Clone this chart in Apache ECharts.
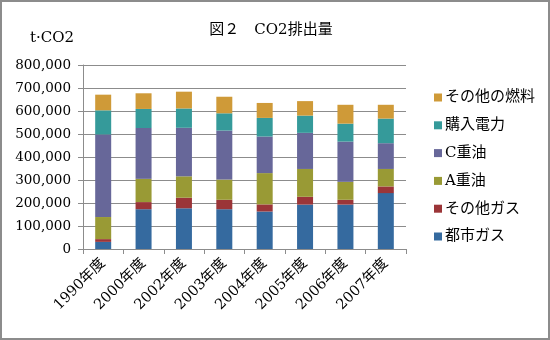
<!DOCTYPE html>
<html><head><meta charset="utf-8">
<script src="https://cdn.jsdelivr.net/npm/echarts@6/dist/echarts.min.js"></script>
<style>html,body{margin:0;padding:0;background:#fff}#c{width:550px;height:340px;box-sizing:border-box;border:2px solid #8c8c8c}</style>
</head><body><div id="c"></div>
<script>
const categories = ['1990年度','2000年度','2002年度','2003年度','2004年度','2005年度','2006年度','2007年度'];
const cityGas   = [31000,173000,177000,173000,163000,193000,193000,243000];
const otherGas  = [12000,31000,46000,41000,31000,34000,21000,29000];
const heavyOilA = [96000,101000,93000,88000,136000,121000,78000,76000];
const heavyOilC = [359000,221000,211000,213000,159000,157000,175000,112000];
const purchasedPower = [105000,83000,84000,75000,81000,75000,78000,107000];
const otherFuel = [68000,68000,73000,72000,65000,63000,82000,60000];
const yTicks = [0,100000,200000,300000,400000,500000,600000,700000,800000];

const FONT = '"DejaVu Serif","Noto Sans CJK JP",serif';
const seriesDefs = [
  ['都市ガス', cityGas, '#356a9f'],
  ['その他ガス', otherGas, '#9b3538'],
  ['A重油', heavyOilA, '#999a35'],
  ['C重油', heavyOilC, '#676799'],
  ['購入電力', purchasedPower, '#359a9a'],
  ['その他の燃料', otherFuel, '#cf9a38']
];
const chart = echarts.init(document.getElementById('c'), null, {renderer:'canvas'});
chart.setOption({
  animation:false,
  textStyle:{fontFamily:FONT},
  title:{text:'図２　CO2排出量', left:269, top:21, textAlign:'center', padding:0,
    textStyle:{fontFamily:FONT, fontSize:15, fontWeight:'normal', color:'#000'}},
  legend:{orient:'vertical', left:432, top:88, padding:0, itemGap:12.8, itemWidth:8, itemHeight:8,
    icon:'rect', textStyle:{fontFamily:FONT, fontSize:15, color:'#000', padding:[0,0,0,-2]},
    data:seriesDefs.map(s=>s[0]).reverse()},
  grid:{left:81, right:142, top:63, bottom:89},
  xAxis:{type:'category', data:categories,
    axisLine:{lineStyle:{color:'#8c8c8c'}},
    axisTick:{show:true, length:5, lineStyle:{color:'#8c8c8c'}},
    axisLabel:{rotate:45, margin:12, fontFamily:FONT, fontSize:14.5, color:'#000'}},
  yAxis:{type:'value', min:0, max:800000, interval:100000,
    name:'t·CO2', nameLocation:'end', nameGap:19,
    nameTextStyle:{fontFamily:FONT, fontSize:15, color:'#000', align:'right', padding:[0,9,0,0]},
    axisLine:{show:true, lineStyle:{color:'#8c8c8c'}},
    axisTick:{show:true, length:5, lineStyle:{color:'#8c8c8c'}},
    splitLine:{lineStyle:{color:'#8c8c8c'}},
    axisLabel:{margin:12, fontFamily:FONT, fontSize:13.5, color:'#000',
      formatter:v=>yTicks.includes(v)?v.toLocaleString('en-US'):''}},
  series:seriesDefs.map(s=>({name:s[0], type:'bar', stack:'t', data:s[1], barWidth:16,
    itemStyle:{color:s[2]}}))
});
</script></body></html>
